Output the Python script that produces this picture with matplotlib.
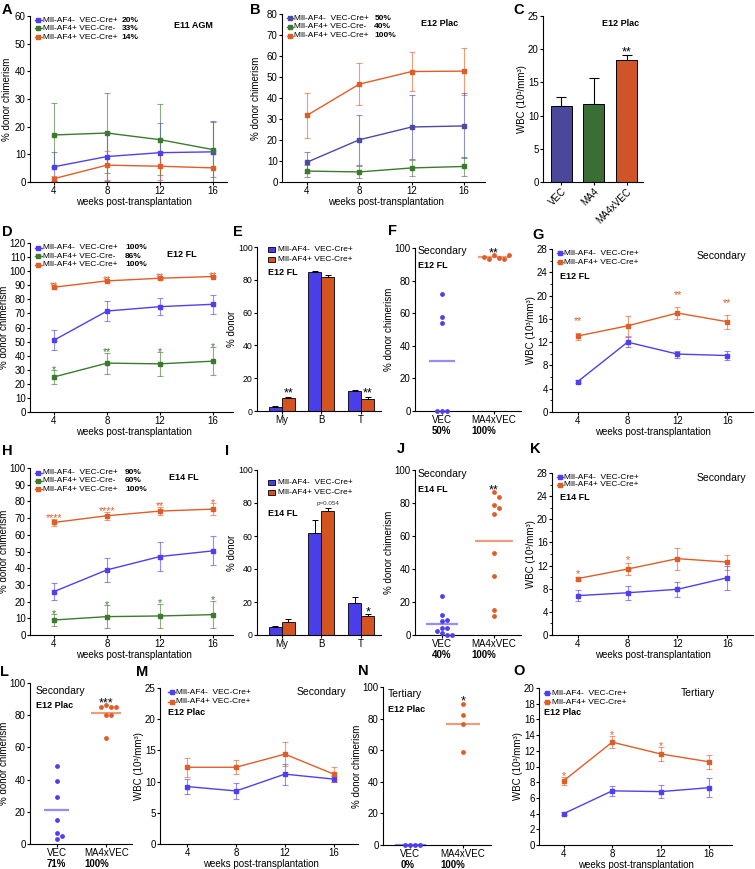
import numpy as np
import matplotlib
matplotlib.use("Agg")
import matplotlib.pyplot as plt
from matplotlib.lines import Line2D
from matplotlib.patches import Rectangle

plt.rcParams['font.family'] = ['Liberation Sans', 'DejaVu Sans']
plt.rcParams['axes.linewidth'] = 0.8

W, H = 755, 869
fig = plt.figure(figsize=(W / 100, H / 100), dpi=100)
fig.patch.set_facecolor('white')

FS = 7
LFS = 6
BFS = 6.5

BLUE = "#4f3ff2"
BLUE_D = "#4b4aa4"
GREEN = "#3d7a30"
ORANGE = "#df5d27"
C_COLS = ["#4b489c", "#3a6e35", "#cf5529"]
BAR_BLUE = "#4a3ee8"
BAR_ORANGE = "#d4541f"

# ---------------- data ----------------
weeks = [4, 8, 12, 16]
lab_neg = "Mll-AF4-  VEC-Cre+"
lab_cre_neg = "Mll-AF4+ VEC-Cre-"
lab_pos = "Mll-AF4+ VEC-Cre+"

# A  E11 AGM
A_pct = ["20%", "33%", "14%"]
A_blue = [5.5, 9.2, 10.6, 10.9]
A_blue_err = [5.3, 8.8, 10.7, 11.0]
A_green = [17.0, 17.7, 15.3, 11.7]
A_green_err = [11.7, 14.3, 12.8, 10.0]
A_orange = [1.2, 6.1, 5.7, 5.1]
A_orange_err = [1.0, 5.2, 5.0, 5.1]

# B  E12 Plac
B_pct = ["50%", "40%", "100%"]
B_blue = [9.4, 20.1, 26.2, 26.7]
B_blue_err = [4.9, 11.9, 15.2, 15.5]
B_green = [5.2, 4.8, 6.7, 7.4]
B_green_err = [2.8, 3.0, 4.0, 4.6]
B_orange = [31.7, 46.6, 52.6, 52.8]
B_orange_err = [10.6, 10.0, 9.2, 11.2]

# C  WBC E12 Plac
C_cats = ["VEC", "MA4", "MA4xVEC"]
C_vals = [11.5, 11.7, 18.3]
C_err = [1.3, 3.9, 0.9]
C_stars = ["", "", "**"]

# D  E12 FL
D_pct = ["100%", "86%", "100%"]
D_blue = [51.0, 71.7, 74.8, 76.5]
D_blue_err = [7.2, 7.3, 6.0, 6.7]
D_green = [24.9, 34.7, 34.2, 36.1]
D_green_err = [4.7, 7.5, 8.3, 10.0]
D_orange = [88.6, 93.1, 95.0, 96.2]
D_orange_err = [1.0, 0.8, 0.7, 0.6]
D_green_stars = ["*", "**", "*", "*"]
D_orange_stars = ["**", "**", "**", "**"]

# E  lineage E12 FL
E_cats = ["My", "B", "T"]
E_blue = [2.4, 84.6, 12.4]
E_blue_err = [0.5, 1.0, 0.3]
E_orange = [7.7, 81.7, 7.3]
E_orange_err = [0.9, 1.2, 1.3]
E_stars = ["**", "", "**"]

# F  secondary E12 FL
F_cats = ["VEC", "MA4xVEC"]
F_vec = [72.0, 57.5, 54.0, 0.0, 0.0, 0.0]
F_ma4 = [95.5, 94.0, 93.0, 93.5, 94.5, 95.5]
F_pct = ["50%", "100%"]

# G  WBC secondary E12 FL
G_blue = [5.2, 12.0, 9.95, 9.7]
G_blue_err = [0.25, 0.8, 0.6, 0.7]
G_orange = [13.05, 14.8, 17.0, 15.5]
G_orange_err = [0.6, 1.7, 1.1, 1.2]
G_stars = ["**", "", "**", "**"]

# H  E14 FL
H_pct = ["90%", "60%", "100%"]
H_blue = [26.0, 39.0, 47.0, 50.4]
H_blue_err = [5.1, 7.4, 8.4, 8.7]
H_green = [9.0, 11.0, 11.4, 12.2]
H_green_err = [3.4, 6.8, 7.2, 8.2]
H_orange = [67.4, 71.4, 74.2, 75.4]
H_orange_err = [2.3, 2.5, 2.6, 3.4]
H_green_stars = ["*", "*", "*", "*"]
H_orange_stars = ["****", "****", "**", "*"]

# I  lineage E14 FL
I_blue = [4.6, 62.0, 19.2]
I_blue_err = [1.0, 8.0, 3.8]
I_orange = [8.1, 75.4, 11.7]
I_orange_err = [1.8, 1.8, 1.3]
I_stars = ["", "p=0.054", "*"]

# J  secondary E14 FL
J_vec = [23.4, 12.0, 9.1, 8.5, 4.4, 4.0, 2.5, 1.0, 0.0, 0.0]
J_ma4 = [86.5, 83.5, 78.5, 77.0, 73.5, 49.5, 36.0, 15.0, 11.5]
J_pct = ["40%", "100%"]

# K  WBC secondary E14 FL
K_blue = [6.8, 7.3, 7.9, 9.9]
K_blue_err = [0.9, 1.2, 1.3, 2.1]
K_orange = [9.75, 11.4, 13.2, 12.6]
K_orange_err = [0.3, 1.1, 1.9, 1.3]
K_stars = ["*", "*", "", ""]

# L  secondary E12 Plac
L_vec = [48.2, 39.3, 29.0, 15.1, 6.8, 4.8, 3.3]
L_ma4 = [86.1, 85.3, 85.3, 84.9, 80.3, 80.3, 65.8]
L_pct = ["71%", "100%"]

# M  WBC secondary E12 Plac
M_blue = [9.2, 8.5, 11.2, 10.4]
M_blue_err = [1.2, 1.3, 1.7, 0.5]
M_orange = [12.3, 12.3, 14.4, 11.2]
M_orange_err = [1.55, 1.1, 1.9, 1.2]

# N  tertiary E12 Plac
N_vec = [0.0, 0.0, 0.0, 0.0]
N_ma4 = [89.5, 82.1, 76.4, 58.7]
N_pct = ["0%", "100%"]

# O  WBC tertiary E12 Plac
O_blue = [4.0, 6.9, 6.8, 7.3]
O_blue_err = [0.2, 0.6, 0.8, 1.2]
O_orange = [8.2, 13.1, 11.6, 10.6]
O_orange_err = [0.5, 0.8, 0.9, 0.9]
O_stars = ["*", "*", "*", ""]

WBC = "WBC (10³/mm³)"
CHIM = "% donor chimerism"
XLAB = "weeks post-transplantation"


# ---------------- helpers ----------------
def fx(x):
    return x / W


def fy(y):
    return 1 - y / H


def make_axes(x0, y0, x1, y1, xlim, ylim, yticks):
    ax = fig.add_axes([x0 / W, 1 - y1 / H, (x1 - x0) / W, (y1 - y0) / H])
    for s in ('top', 'right'):
        ax.spines[s].set_visible(False)
    ax.tick_params(labelsize=FS, length=2.5, width=0.8, pad=0.6)
    ax.set_xlim(*xlim)
    ax.set_ylim(*ylim)
    ax.set_yticks(yticks)
    ax.patch.set_alpha(0)
    ax._px = (x0, y0, x1, y1)
    return ax


ylabel_jobs = []
xlabel_jobs = []
pct_jobs = []


def ylab(ax, text, xc, fs=FS):
    x0, y0, x1, y1 = ax._px
    t = fig.text(fx(xc), fy((y0 + y1) / 2), text, rotation=90, ha='center',
                 va='center', fontsize=fs)
    ylabel_jobs.append((ax, t))


def weeks_axis(ax):
    ax.set_xticks(weeks)
    xlabel_jobs.append(ax)


def star(ax, x, y, s, color, pad, fs):
    fs_px = fs * 100 / 72
    ax.annotate(s, xy=(x, y), xytext=(0, pad - 0.615 * fs_px),
                textcoords='offset pixels', ha='center', va='baseline',
                fontsize=fs, color=color, annotation_clip=False)


def series(ax, m, e, color, stars=None, pad=4, sfs=7.5):
    ax.errorbar(weeks, m, yerr=e, fmt='none', ecolor=color, elinewidth=0.8,
                capsize=2, capthick=0.8, alpha=0.6, zorder=2)
    ax.plot(weeks, m, color=color, lw=1.0, marker='s', ms=2.6, zorder=3)
    if stars:
        for xi, mi, ei, s in zip(weeks, m, e, stars):
            if s:
                star(ax, xi, mi + ei, s, color, pad, sfs)


def line_legend(y_rows, labels, colors, xl0, xl1, xt, pcts=None, xp=None):
    for i, (y, lab, c) in enumerate(zip(y_rows, labels, colors)):
        fig.add_artist(Line2D([fx(xl0), fx(xl1)], [fy(y), fy(y)], color=c, lw=1.0))
        fig.add_artist(Line2D([fx((xl0 + xl1) / 2)], [fy(y)], color=c,
                              marker='s', ms=2.4, lw=0))
        fig.text(fx(xt), fy(y), lab, fontsize=LFS, ha='left', va='center')
        if pcts:
            fig.text(fx(xp), fy(y), pcts[i], fontsize=LFS, fontweight='bold',
                     ha='left', va='center')


def bar_legend(y_rows, labels, colors, xp0, xp1, xt):
    for y, lab, c in zip(y_rows, labels, colors):
        fig.add_artist(Rectangle((fx(xp0), fy(y + 2.6)), (xp1 - xp0) / W, 5.2 / H,
                                 facecolor=c, edgecolor='black', lw=0.6))
        fig.text(fx(xt), fy(y), lab, fontsize=LFS, ha='left', va='center')


def grouped_bars(ax, cats, vals_list, err_list, colors, stars, pads, width=0.33):
    x = np.arange(len(cats))
    for i, (v, e, c) in enumerate(zip(vals_list, err_list, colors)):
        pos = x + (i - 0.5) * width
        ax.bar(pos, v, width, color=c, edgecolor='black', linewidth=0.6, zorder=2)
        ax.errorbar(pos, v, yerr=[np.zeros(len(e)), e], fmt='none', ecolor='black',
                    elinewidth=0.7, capsize=2.3, capthick=0.7, zorder=1)
    ax.set_xticks(x)
    ax.set_xticklabels(cats)
    ax.tick_params(axis='y', labelsize=6.3)
    last_v, last_e = vals_list[-1], err_list[-1]
    for xi, v, e, s in zip(x + 0.5 * width, last_v, last_e, stars):
        if s.startswith("p="):
            ax.annotate(s, xy=(xi, v + e), xytext=(0, 2), textcoords='offset pixels',
                        ha='center', va='bottom', fontsize=4.5, color='#333333')
        elif s:
            star(ax, xi, v + e, s, 'black', pads, 9)


def swarm_offsets(vals, ax, d_px=5.0):
    x0, y0, x1, y1 = ax._px
    xl, yl = ax.get_xlim(), ax.get_ylim()
    sx = (x1 - x0) / (xl[1] - xl[0])
    sy = (y1 - y0) / (yl[1] - yl[0])
    placed, offs = [], []
    cands = [0] + [s * j for j in range(1, 30) for s in (1, -1)]
    for v in vals:
        yp = v * sy
        xp = 0.0
        for c in cands:
            xp = c * d_px
            if all((xp - a) ** 2 + (yp - b) ** 2 >= d_px ** 2 for a, b in placed):
                break
        placed.append((xp, yp))
        offs.append(xp / sx)
    return np.array(offs)


def dotplot(ax, cats, groups, colors, halfw, star_txt, pcts):
    for i, (vals, c, hw) in enumerate(zip(groups, colors, halfw)):
        offs = swarm_offsets(vals, ax)
        ax.scatter(i + offs, vals, s=12, color=c, zorder=3, clip_on=False,
                   linewidths=0)
        mean = float(np.mean(vals))
        ax.plot([i - hw, i + hw], [mean, mean], color=c, lw=1.6, alpha=0.6,
                zorder=2, solid_capstyle='butt', clip_on=False)
    ax.set_xticks(range(len(cats)))
    ax.set_xticklabels(cats)
    star(ax, 1, max(groups[1]), star_txt, 'black', 7, 9)
    pct_jobs.append((ax, pcts))


def panel_letter(x, y, s):
    fig.text(fx(x), fy(y), s, fontsize=10.5, fontweight='bold', ha='left', va='center')


def btext(x, y, s, ha='left'):
    fig.text(fx(x), fy(y), s, fontsize=BFS, fontweight='bold', ha=ha, va='center')


def ntext(x, y, s, ha='left'):
    fig.text(fx(x), fy(y), s, fontsize=7.5, ha=ha, va='center')


# ---------------- A ----------------
ax = make_axes(30, 16, 227, 182, (2.2, 17.05), (0, 60), range(0, 61, 10))
weeks_axis(ax)
series(ax, A_blue, A_blue_err, BLUE)
series(ax, A_green, A_green_err, GREEN)
series(ax, A_orange, A_orange_err, ORANGE)
ylab(ax, CHIM, 7)
line_legend([20, 28.3, 37.3], [lab_neg, lab_cre_neg, lab_pos], [BLUE, GREEN, ORANGE],
            35, 41.7, 43.3, A_pct, 121.7)
btext(193, 25, "E11 AGM", ha='center')
panel_letter(2, 10, "A")

# ---------------- B ----------------
ax = make_axes(282, 14, 485, 182, (2.1, 17.6), (0, 80), range(0, 81, 10))
weeks_axis(ax)
series(ax, B_orange, B_orange_err, ORANGE)
series(ax, B_blue, B_blue_err, BLUE_D)
series(ax, B_green, B_green_err, GREEN)
ylab(ax, CHIM, 256)
line_legend([18.3, 26.7, 35.7], [lab_neg, lab_cre_neg, lab_pos], [BLUE_D, GREEN, ORANGE],
            286.7, 293.3, 294.3, B_pct, 374.3)
btext(440, 24, "E12 Plac", ha='center')
panel_letter(250, 10, "B")

# ---------------- C ----------------
ax = make_axes(543, 16, 643, 182, (-0.55, 2.5), (0, 25), range(0, 26, 5))
xc = np.arange(len(C_cats))
ax.bar(xc, C_vals, 0.64, color=C_COLS, edgecolor='black', linewidth=0.7, zorder=2)
ax.errorbar(xc, C_vals, yerr=[np.zeros(len(C_err)), C_err], fmt='none', ecolor='black',
            elinewidth=0.8, capsize=3.5, capthick=0.8, zorder=1)
ax.set_xticks(xc)
ax.set_xticklabels(C_cats, rotation=45, ha='right', rotation_mode='anchor')
for xi, v, e, s in zip(xc, C_vals, C_err, C_stars):
    if s:
        star(ax, xi, v + e, s, 'black', 7, 9)
ylab(ax, WBC, 524)
btext(621, 24, "E12 Plac", ha='center')
panel_letter(513, 10, "C")

# ---------------- D ----------------
ax = make_axes(30, 243, 233, 412, (2.19, 17.5), (0, 120), range(0, 121, 10))
weeks_axis(ax)
series(ax, D_blue, D_blue_err, BLUE)
series(ax, D_green, D_green_err, GREEN, D_green_stars, pad=3.5)
series(ax, D_orange, D_orange_err, ORANGE, D_orange_stars, pad=3.5)
ylab(ax, CHIM, 6)
line_legend([247.7, 256, 265], [lab_neg, lab_cre_neg, lab_pos], [BLUE, GREEN, ORANGE],
            35, 41.7, 43.3, D_pct, 125)
btext(182, 254.3, "E12 FL", ha='center')
panel_letter(2, 232, "D")

# ---------------- E ----------------
ax = make_axes(257, 247, 381, 411, (-0.62, 2.5), (0, 100), range(0, 101, 20))
grouped_bars(ax, E_cats, [E_blue, E_orange], [E_blue_err, E_orange_err],
             [BAR_BLUE, BAR_ORANGE], E_stars, 8)
ylab(ax, "% donor", 238)
bar_legend([249.3, 259.3], [lab_neg, lab_pos], [BAR_BLUE, BAR_ORANGE], 267.7, 275, 278.3)
btext(268, 272.7, "E12 FL")
panel_letter(233, 232, "E")

# ---------------- F ----------------
ax = make_axes(415, 248, 521, 411, (-0.52, 1.52), (0, 100), range(0, 101, 20))
dotplot(ax, F_cats, [F_vec, F_ma4], [BLUE, ORANGE], [0.25, 0.3], "**", F_pct)
ylab(ax, CHIM, 394)
ntext(418, 250.7, "Secondary")
btext(418, 266, "E12 FL")
panel_letter(388, 231, "F")

# ---------------- G ----------------
ax = make_axes(552, 249, 753, 412, (1.95, 18.05), (0, 28), range(0, 29, 4))
ax.set_yticks(range(0, 29, 2), minor=True)
ax.tick_params(which='minor', length=1.6, width=0.6)
weeks_axis(ax)
series(ax, G_blue, G_blue_err, BLUE)
series(ax, G_orange, G_orange_err, ORANGE, G_stars, pad=15)
ylab(ax, WBC, 537)
line_legend([253.3, 262.3], [lab_neg, lab_pos], [BLUE, ORANGE], 556.7, 563.3, 564)
ntext(721, 256, "Secondary", ha='center')
btext(560, 276, "E12 FL")
panel_letter(532, 235, "G")

# ---------------- H ----------------
ax = make_axes(30, 468, 233, 635, (2.19, 17.5), (0, 100), range(0, 101, 10))
weeks_axis(ax)
series(ax, H_blue, H_blue_err, BLUE)
series(ax, H_green, H_green_err, GREEN, H_green_stars, pad=4)
series(ax, H_orange, H_orange_err, ORANGE, H_orange_stars, pad=4)
ylab(ax, CHIM, 6)
line_legend([472.7, 481, 489.3], [lab_neg, lab_cre_neg, lab_pos], [BLUE, GREEN, ORANGE],
            35, 41.7, 43.3, H_pct, 125)
btext(184, 477.3, "E14 FL", ha='center')
panel_letter(2, 451, "H")

# ---------------- I ----------------
ax = make_axes(257, 470, 381, 635, (-0.62, 2.5), (0, 100), range(0, 101, 20))
grouped_bars(ax, E_cats, [I_blue, I_orange], [I_blue_err, I_orange_err],
             [BAR_BLUE, BAR_ORANGE], I_stars, 6)
ylab(ax, "% donor", 238)
bar_legend([482.3, 492.3], [lab_neg, lab_pos], [BAR_BLUE, BAR_ORANGE], 267.7, 275, 278.3)
btext(268, 513, "E14 FL")
panel_letter(225, 451, "I")

# ---------------- J ----------------
ax = make_axes(415, 470, 521, 635, (-0.52, 1.52), (0, 100), range(0, 101, 20))
dotplot(ax, F_cats, [J_vec, J_ma4], [BLUE, ORANGE], [0.3, 0.36], "**", J_pct)
ylab(ax, CHIM, 394)
ntext(418, 474.3, "Secondary")
btext(418, 489, "E14 FL")
panel_letter(397, 449, "J")

# ---------------- K ----------------
ax = make_axes(552, 473, 753, 635, (1.95, 18.05), (0, 28), range(0, 29, 4))
ax.set_yticks(range(0, 29, 2), minor=True)
ax.tick_params(which='minor', length=1.6, width=0.6)
weeks_axis(ax)
series(ax, K_blue, K_blue_err, BLUE)
series(ax, K_orange, K_orange_err, ORANGE, K_stars, pad=6)
ylab(ax, WBC, 537)
line_legend([477.3, 485], [lab_neg, lab_pos], [BLUE, ORANGE], 556.7, 563.3, 564)
ntext(721, 478.3, "Secondary", ha='center')
btext(560, 497.7, "E14 FL")
panel_letter(530, 449, "K")

# ---------------- L ----------------
ax = make_axes(30, 683, 132, 844, (-0.54, 1.52), (0, 100), range(0, 101, 20))
dotplot(ax, F_cats, [L_vec, L_ma4], [BLUE, ORANGE], [0.25, 0.3], "***", L_pct)
ylab(ax, CHIM, 8)
ntext(36, 690.7, "Secondary")
btext(36, 705, "E12 Plac")
panel_letter(0, 672, "L")

# ---------------- M ----------------
ax = make_axes(160, 688, 358, 844, (1.75, 18.0), (0, 25), range(0, 26, 5))
weeks_axis(ax)
series(ax, M_blue, M_blue_err, BLUE)
series(ax, M_orange, M_orange_err, ORANGE)
ylab(ax, WBC, 146)
line_legend([692.3, 701.7], [lab_neg, lab_pos], [BLUE, ORANGE], 168, 175, 176)
ntext(321, 692.3, "Secondary", ha='center')
btext(168, 712.7, "E12 Plac")
panel_letter(136, 672, "M")

# ---------------- N ----------------
ax = make_axes(383, 687, 491, 845, (-0.52, 1.53), (0, 100), range(0, 101, 20))
dotplot(ax, F_cats, [N_vec, N_ma4], [BLUE, ORANGE], [0.3, 0.32], "*", N_pct)
ylab(ax, CHIM, 362)
ntext(388.3, 694, "Tertiary")
btext(388.3, 710, "E12 Plac")
panel_letter(358, 671, "N")

# ---------------- O ----------------
ax = make_axes(539, 688, 732, 845, (1.95, 17.9), (0, 20), range(0, 21, 2))
weeks_axis(ax)
series(ax, O_blue, O_blue_err, BLUE)
series(ax, O_orange, O_orange_err, ORANGE, O_stars, pad=4.5)
ylab(ax, WBC, 520)
line_legend([693.3, 702.3], [lab_neg, lab_pos], [BLUE, ORANGE], 544, 550, 551.7)
ntext(698, 693.3, "Tertiary", ha='center')
btext(544, 712.7, "E12 Plac")
panel_letter(513, 671, "O")

# ---------------- text placement that depends on drawn tick labels ----------------
fig.canvas.draw()
r = fig.canvas.get_renderer()

# y labels: keep clear of tick labels
for ax, t in ylabel_jobs:
    bb = t.get_window_extent(r)
    labs = [l.get_window_extent(r) for l in ax.get_yticklabels() if l.get_text()]
    tl = min(b.x0 for b in labs)
    if bb.x1 > tl - 0.5:
        shift = bb.x1 - (tl - 0.5)
        x, y = t.get_position()
        t.set_x(x - shift / W)

# x labels under week axes
for ax in xlabel_jobs:
    labs = [l.get_window_extent(r) for l in ax.get_xticklabels() if l.get_text()]
    yb = min(b.y0 for b in labs)
    xd = ax.transData.transform((10, 0))[0]
    fig.text(xd / W, (yb - 0.3) / H, XLAB, ha='center', va='top', fontsize=FS)

# percentages under dot plots
for ax, pcts in pct_jobs:
    for lab, p in zip(ax.get_xticklabels(), pcts):
        bb = lab.get_window_extent(r)
        fig.text(bb.x0 / W, (bb.y0 - 0.3) / H, p, fontsize=FS, fontweight='bold',
                 ha='left', va='top')

fig.savefig("out.png", dpi=100, facecolor='white')
